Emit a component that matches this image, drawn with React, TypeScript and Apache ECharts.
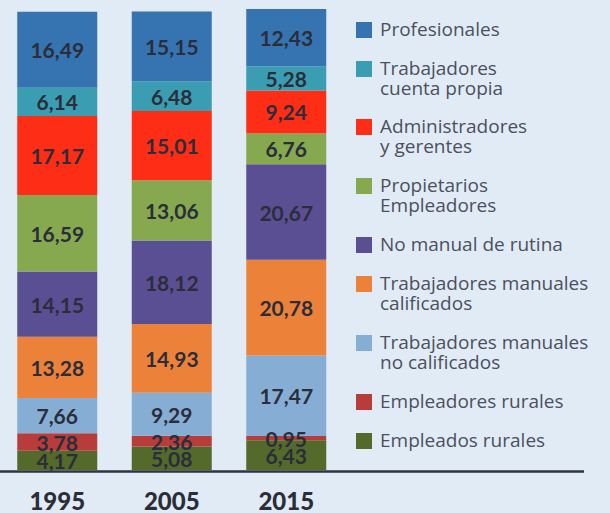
import React, { useEffect, useRef } from "react";
import * as echarts from "echarts";

const years = ["1995", "2005", "2015"];

// Series listed from top of the stack to bottom (legend order)
const seriesNames = [
  "Profesionales",
  "Trabajadores\ncuenta propia",
  "Administradores\ny gerentes",
  "Propietarios\nEmpleadores",
  "No manual de rutina",
  "Trabajadores manuales\ncalificados",
  "Trabajadores manuales\nno calificados",
  "Empleadores rurales",
  "Empleados rurales",
];

const profesionales = [16.49, 15.15, 12.43];
const cuentaPropia = [6.14, 6.48, 5.28];
const administradores = [17.17, 15.01, 9.24];
const propietarios = [16.59, 13.06, 6.76];
const noManual = [14.15, 18.12, 20.67];
const manualesCalificados = [13.28, 14.93, 20.78];
const manualesNoCalificados = [7.66, 9.29, 17.47];
const empleadoresRurales = [3.78, 2.36, 0.95];
const empleadosRurales = [4.17, 5.08, 6.43];

const seriesValues = [
  profesionales,
  cuentaPropia,
  administradores,
  propietarios,
  noManual,
  manualesCalificados,
  manualesNoCalificados,
  empleadoresRurales,
  empleadosRurales,
];

const colors = [
  "#3574b1",
  "#3a9db1",
  "#fd2d16",
  "#86a94f",
  "#5b4f93",
  "#ec823a",
  "#86aed4",
  "#b83c3a",
  "#536a2b",
];

// legend icon centre y positions
const legendCenters = [30, 69, 127, 186, 245, 284, 343, 402, 441];

export default function App() {
  const ref = useRef<HTMLDivElement>(null);
  useEffect(() => {
    if (!ref.current) return;
    const chart = echarts.init(ref.current, undefined, { renderer: "svg" });
    const fmt = (p: any) => Number(p.value).toFixed(2).replace(".", ",");
    const series = seriesNames
      .map((name, i) => ({
        name: name.replace("\n", " "),
        type: "bar" as const,
        stack: "total",
        barWidth: 80,
        data: seriesValues[i],
        itemStyle: { color: colors[i] },
        label: {
          show: true,
          position: "inside",
          formatter: fmt,
          color: "#2b2d3a",
          fontFamily: "Lato",
          fontWeight: "bold",
          fontSize: 21,
        },
      }))
      .reverse();

    const legendGraphics: any[] = [];
    seriesNames.forEach((name, i) => {
      const cy = legendCenters[i];
      legendGraphics.push({
        type: "rect",
        shape: { x: 356, y: cy - 8, width: 16, height: 16 },
        style: { fill: colors[i] },
      });
      legendGraphics.push({
        type: "text",
        x: 380,
        y: cy - 11,
        style: {
          text: name,
          fill: "#4b505c",
          fontFamily: "Open Sans",
          fontSize: 19,
          lineHeight: 20,
          verticalAlign: "top",
          align: "left",
        },
      });
    });

    chart.setOption({
      animation: false,
      backgroundColor: "#e1ebf6",
      grid: { left: -1.5, right: 266.5, top: 9, bottom: 43 },
      xAxis: {
        type: "category",
        data: years,
        axisLine: { show: false },
        axisTick: { show: false },
        axisLabel: {
          margin: 18,
          color: "#2b2d38",
          fontFamily: "Lato",
          fontWeight: 900,
          fontSize: 24,
        },
      },
      yAxis: {
        type: "value",
        min: 0,
        max: 100,
        show: false,
        splitLine: { show: false },
      },
      series,
      graphic: [
        {
          type: "line",
          shape: { x1: 0, y1: 471.5, x2: 584, y2: 471.5 },
          style: { stroke: "#2e3540", lineWidth: 2.5 },
          z: 10,
        },
        ...legendGraphics,
      ],
    });
    return () => chart.dispose();
  }, []);
  return (
    <div
      ref={ref}
      style={{ position: "fixed", left: 0, top: 0, width: 610, height: 513 }}
    />
  );
}
